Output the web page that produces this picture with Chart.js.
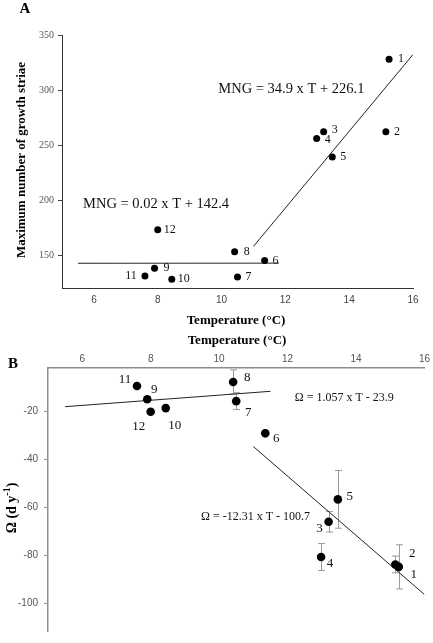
<!DOCTYPE html>
<html><head><meta charset="utf-8">
<script src="https://cdn.jsdelivr.net/npm/chart.js@4.4.1/dist/chart.umd.min.js"></script>
<style>
html,body{margin:0;padding:0;background:#fff;width:433px;height:643px;overflow:hidden;}
#wrap{position:relative;width:433px;height:643px;}
canvas{position:absolute;left:0;}
#cA{top:0}
#cB{top:330px}
</style></head><body>
<div id="wrap"><canvas id="cA" width="433" height="330"></canvas><canvas id="cB" width="433" height="313"></canvas></div>
<script>
// ---------- DATA ----------
const siteIds = ['1','2','3','4','5','6','7','8','9','10','11','12'];
const temperature = [15.25, 15.15, 13.2, 12.98, 13.47, 11.35, 10.5, 10.41, 7.9, 8.44, 7.6, 8.0];
const maxGrowthStriae = [328, 262, 262, 256, 239, 145, 130, 153, 138, 128, 131, 173];
const omega = [-84.8, -83.8, -66.0, -80.7, -56.7, -29.2, -15.8, -7.8, -15.0, -18.7, -9.5, -20.2];
const omegaError = [9.2, 3.5, 4.3, 5.6, 12.0, 0, 3.5, 5.0, 1.0, 0, 0, 0];
const tempTicks = [6, 8, 10, 12, 14, 16];
const mngTicks = [150, 200, 250, 300, 350];
const omegaTicks = [-20, -40, -60, -80, -100];
const fitA_cold = [{x: 5.5, y: 142.5}, {x: 11.8, y: 142.6}];
const fitA_warm = [{x: 11.0, y: 157.8}, {x: 16.0, y: 332.3}];
const fitB_cold = [{x: 5.5, y: -18.1}, {x: 11.5, y: -11.7}];
const fitB_warm = [{x: 11.0, y: -34.7}, {x: 16.0, y: -96.3}];
const equationsA = [
  {text: 'MNG = 34.9 x T + 226.1', x: 9.9, y: 301},
  {text: 'MNG = 0.02 x T + 142.4', x: 5.66, y: 196.4}
];
const equationsB = [
  {text: '\u03A9 = 1.057 x T - 23.9', x: 12.21, y: -14.6},
  {text: '\u03A9 = -12.31 x T - 100.7', x: 9.47, y: -64.1}
];

// ---------- LAYOUT (label offsets in px) ----------
const labelOffA = [[12,0],[11,0],[11,-2],[11,1],[11,0],[11,0],[11,0],[12,0],[12,0],[12,0],[-14,0],[12,0]];
const labelOffB = [[15,8],[17,-11],[-9,7],[9,7],[12,-3],[11,5],[12,11],[14,-4],[7,-10],[9,17],[-12,-6],[-12,15]];

const SERIF = '"Liberation Serif", "Times New Roman", serif';
const SANS = '"Liberation Sans", Arial, sans-serif';

function fixedTicks(arr){ return s => { s.ticks = arr.map(v => ({value: v})); }; }

function textPlugin(cfg){
  return {
    id: 'txt' + cfg.name,
    beforeDatasetsDraw(chart){
      if (!cfg.errors) return;
      const {ctx, scales:{x, y}} = chart;
      ctx.save();
      ctx.strokeStyle = '#9a9a9a'; ctx.lineWidth = 1;
      cfg.xs.forEach((t, i) => {
        const e = cfg.errors[i]; if (!e) return;
        const px = Math.round(x.getPixelForValue(t)) + 0.5;
        const y1 = y.getPixelForValue(cfg.ys[i] + e), y2 = y.getPixelForValue(cfg.ys[i] - e);
        ctx.beginPath();
        ctx.moveTo(px, y1); ctx.lineTo(px, y2);
        ctx.moveTo(px - 3.5, y1); ctx.lineTo(px + 3.5, y1);
        ctx.moveTo(px - 3.5, y2); ctx.lineTo(px + 3.5, y2);
        ctx.stroke();
      });
      ctx.restore();
    },
    afterDraw(chart){
      const {ctx, scales:{x, y}} = chart;
      ctx.save();
      ctx.fillStyle = '#111';
      ctx.font = cfg.labelFont; ctx.textAlign = 'center'; ctx.textBaseline = 'middle';
      cfg.xs.forEach((t, i) => {
        ctx.fillText(siteIds[i], x.getPixelForValue(t) + cfg.off[i][0], y.getPixelForValue(cfg.ys[i]) + cfg.off[i][1]);
      });
      ctx.font = cfg.eqFont; ctx.textAlign = 'left';
      cfg.eqs.forEach(e => ctx.fillText(e.text, x.getPixelForValue(e.x), y.getPixelForValue(e.y)));
      ctx.fillStyle = '#000';
      ctx.font = 'bold 15px ' + SERIF; ctx.textAlign = 'center';
      ctx.fillText(cfg.letter.t, cfg.letter.x, cfg.letter.y);
      ctx.font = 'bold 13px ' + SERIF;
      ctx.fillText('Temperature (\u00B0C)', cfg.xTitle.x, cfg.xTitle.y);
      ctx.translate(cfg.yTitle.x, cfg.yTitle.y);
      ctx.rotate(-Math.PI / 2);
      if (cfg.yTitle.sup) {
        const main = '\u03A9 (d y', sup = '-1', close = ')';
        ctx.font = 'bold 14px ' + SERIF; const w1 = ctx.measureText(main).width; const w3 = ctx.measureText(close).width;
        ctx.font = 'bold 10px ' + SERIF; const w2 = ctx.measureText(sup).width;
        const sx = -(w1 + w2 + w3) / 2;
        ctx.textAlign = 'left';
        ctx.font = 'bold 14px ' + SERIF; ctx.fillText(main, sx, 0);
        ctx.font = 'bold 10px ' + SERIF; ctx.fillText(sup, sx + w1, -5);
        ctx.font = 'bold 14px ' + SERIF; ctx.fillText(close, sx + w1 + w2, 0);
      } else {
        ctx.font = 'bold 13px ' + SERIF;
        ctx.fillText(cfg.yTitle.text, 0, 0);
      }
      ctx.restore();
    }
  };
}

// ---------- PANEL A ----------
new Chart(document.getElementById('cA'), {
  type: 'scatter',
  data: {datasets: [
    {data: temperature.map((t, i) => ({x: t, y: maxGrowthStriae[i]})), pointRadius: 3.5, pointBackgroundColor: '#000', pointBorderWidth: 0, order: 0},
    {type: 'line', data: fitA_cold, borderColor: '#222', borderWidth: 1, pointRadius: 0, order: 1},
    {type: 'line', data: fitA_warm, borderColor: '#222', borderWidth: 1, pointRadius: 0, order: 1}
  ]},
  options: {
    responsive: false, animation: false, devicePixelRatio: 1,
    layout: {padding: {left: 30, right: 20, top: 35, bottom: 0}},
    plugins: {legend: {display: false}, tooltip: {enabled: false}},
    scales: {
      x: {type: 'linear', min: 5, max: 16, afterBuildTicks: fixedTicks(tempTicks), afterFit: s => { s.height = 42; },
          grid: {display: false, drawTicks: false}, border: {display: true, color: '#333', width: 1},
          ticks: {font: {family: SANS, size: 10}, color: '#444', padding: 6, maxRotation: 0}},
      y: {type: 'linear', min: 120, max: 350, afterBuildTicks: fixedTicks(mngTicks), afterFit: s => { s.width = 32; },
          grid: {display: true, drawOnChartArea: false, drawTicks: true, tickLength: 4, color: '#444'},
          border: {display: true, color: '#333', width: 1},
          ticks: {font: {family: SERIF, size: 10}, color: '#555', padding: 4}}
    }
  },
  plugins: [textPlugin({name: 'A', xs: temperature, ys: maxGrowthStriae, off: labelOffA,
    labelFont: '12px ' + SERIF, eqFont: '14.5px ' + SERIF, eqs: equationsA,
    letter: {t: 'A', x: 25, y: 9}, xTitle: {x: 236, y: 321}, yTitle: {x: 22, y: 160, text: 'Maximum number of growth striae'}})]
});

// ---------- PANEL B ----------
new Chart(document.getElementById('cB'), {
  type: 'scatter',
  data: {datasets: [
    {data: temperature.map((t, i) => ({x: t, y: omega[i]})), pointRadius: 4.3, pointBackgroundColor: '#000', pointBorderWidth: 0, order: 0},
    {type: 'line', data: fitB_cold, borderColor: '#222', borderWidth: 1, pointRadius: 0, order: 1},
    {type: 'line', data: fitB_warm, borderColor: '#222', borderWidth: 1, pointRadius: 0, order: 1}
  ]},
  options: {
    responsive: false, animation: false, devicePixelRatio: 1,
    layout: {padding: {left: 0, right: 8, top: 0, bottom: 0}},
    plugins: {legend: {display: false}, tooltip: {enabled: false}},
    scales: {
      x: {type: 'linear', position: 'top', min: 5, max: 16, afterBuildTicks: fixedTicks(tempTicks), afterFit: s => { s.height = 38; },
          grid: {display: false, drawTicks: false}, border: {display: true, color: '#8c8c8c', width: 1.5},
          ticks: {font: {family: SANS, size: 10}, color: '#555', padding: 3, maxRotation: 0}},
      y: {type: 'linear', min: -111.5, max: -2, afterBuildTicks: fixedTicks(omegaTicks), afterFit: s => { s.width = 48; },
          grid: {display: true, drawOnChartArea: false, drawTicks: true, tickLength: 4, color: '#8c8c8c'},
          border: {display: true, color: '#8c8c8c', width: 1.5},
          ticks: {font: {family: SANS, size: 10}, color: '#555', padding: 6}}
    }
  },
  plugins: [textPlugin({name: 'B', xs: temperature, ys: omega, off: labelOffB, errors: omegaError,
    labelFont: '13px ' + SERIF, eqFont: '12px ' + SERIF, eqs: equationsB,
    letter: {t: 'B', x: 13, y: 34}, xTitle: {x: 237, y: 11}, yTitle: {x: 12, y: 178, sup: true}})]
});
</script>
</body></html>
